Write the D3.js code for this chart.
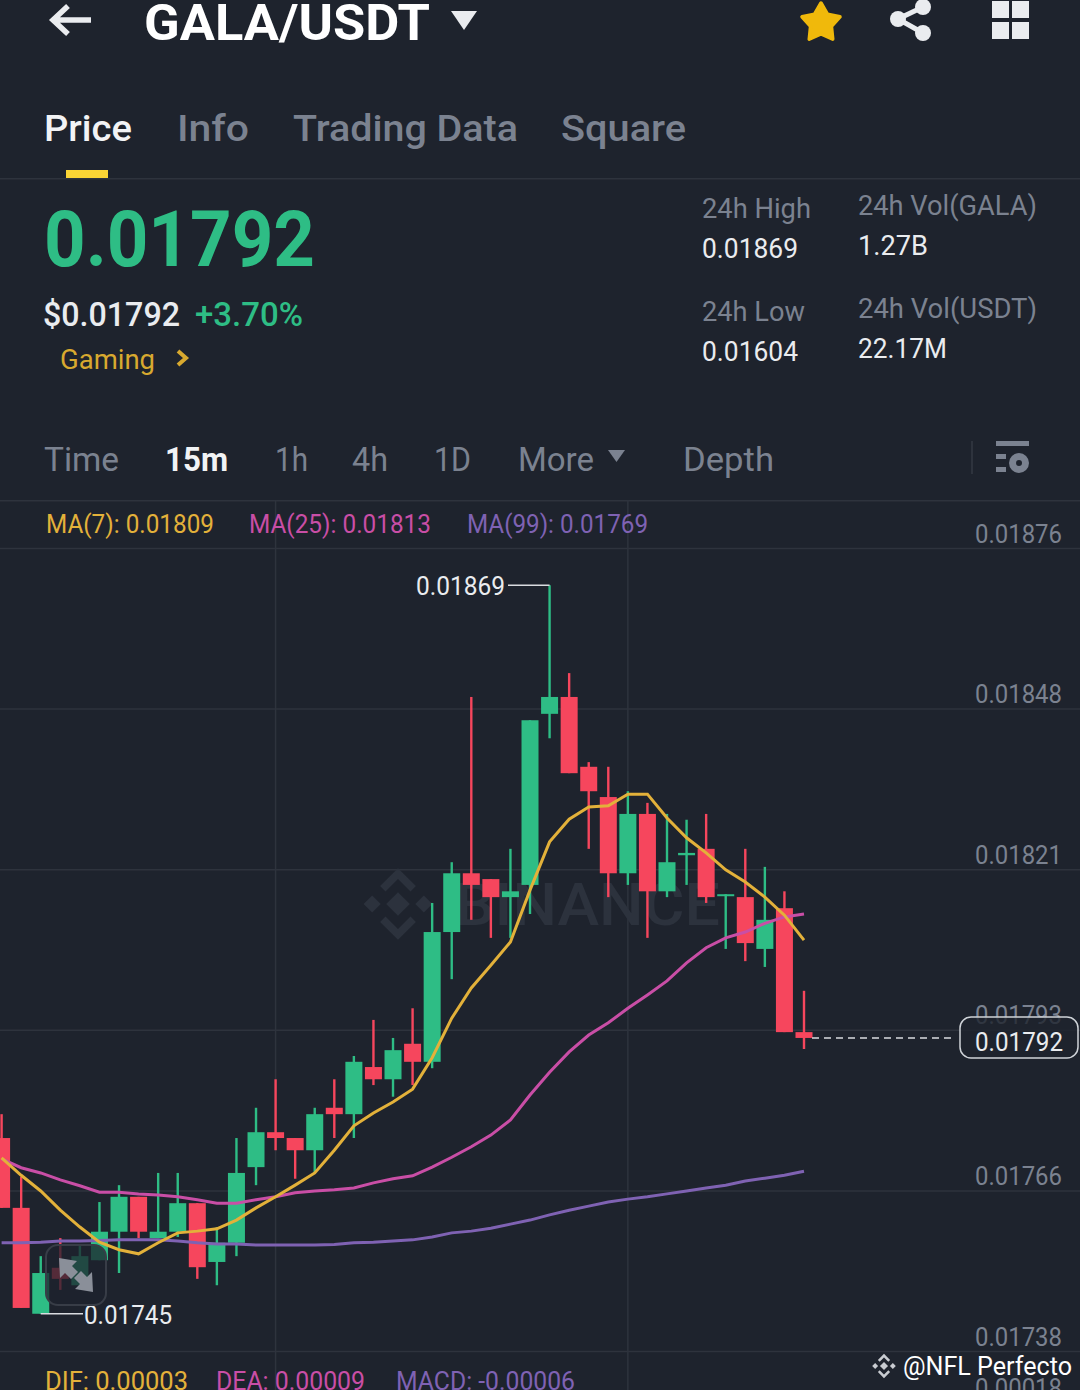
<!DOCTYPE html>
<html>
<head>
<meta charset="utf-8">
<script src="https://cdn.jsdelivr.net/npm/d3@7"></script>
<style>
html, body { margin: 0; padding: 0; background: #1e232d; overflow: hidden; }
text { font-family: Roboto, "Noto Sans", sans-serif; }
</style>
</head>
<body>
<div id="chart"></div>
<script>
// candles, oldest first
var opens = [0.017746,0.017626,0.017444,0.017523,0.017493,0.017536,0.017585,0.017645,0.017574,0.017585,0.017634,0.017533,0.017566,0.017696,0.017756,0.017746,0.017725,0.017798,0.017787,0.017868,0.017847,0.017908,0.017877,0.018100,0.018201,0.018191,0.018160,0.018181,0.018475,0.018504,0.018384,0.018332,0.018201,0.018303,0.018170,0.018232,0.018243,0.018162,0.018160,0.018071,0.018141,0.017928];
var closes = [0.017626,0.017454,0.017514,0.017504,0.017543,0.017585,0.017645,0.017585,0.017585,0.017634,0.017524,0.017566,0.017686,0.017756,0.017746,0.017725,0.017787,0.017787,0.017877,0.017847,0.017897,0.017877,0.018100,0.018201,0.018181,0.018160,0.018170,0.018464,0.018504,0.018373,0.018342,0.018201,0.018303,0.018170,0.018220,0.018236,0.018160,0.018165,0.018081,0.018121,0.017928,0.017918];
var highs = [0.017787,0.017679,0.017543,0.017574,0.017562,0.017636,0.017665,0.017645,0.017686,0.017686,0.017634,0.017593,0.017746,0.017798,0.017847,0.017746,0.017798,0.017847,0.017887,0.017949,0.017918,0.017969,0.018150,0.018220,0.018504,0.018191,0.018243,0.018464,0.018696,0.018545,0.018392,0.018384,0.018342,0.018322,0.018303,0.018293,0.018303,0.018165,0.018243,0.018212,0.018170,0.017999];
var lows = [0.017626,0.017454,0.017444,0.017485,0.017485,0.017536,0.017514,0.017574,0.017574,0.017576,0.017504,0.017493,0.017543,0.017665,0.017725,0.017676,0.017686,0.017746,0.017746,0.017837,0.017817,0.017837,0.017866,0.018019,0.018121,0.018090,0.018090,0.018131,0.018433,0.018373,0.018243,0.018160,0.018181,0.018090,0.018160,0.018181,0.018150,0.018071,0.018050,0.018040,0.017928,0.017899];

var ma7 = [0.017712,0.017682,0.017655,0.017622,0.017593,0.017567,0.017554,0.017547,0.017566,0.017583,0.017586,0.017590,0.017605,0.017626,0.017645,0.017665,0.017686,0.017725,0.017767,0.017789,0.017808,0.017830,0.017884,0.017952,0.018004,0.018043,0.018083,0.018172,0.018255,0.018294,0.018315,0.018317,0.018337,0.018337,0.018296,0.018262,0.018236,0.018207,0.018186,0.018160,0.018129,0.018086];
var ma25 = [0.017710,0.017695,0.017686,0.017674,0.017664,0.017653,0.017653,0.017650,0.017648,0.017645,0.017640,0.017634,0.017634,0.017640,0.017645,0.017652,0.017655,0.017657,0.017660,0.017669,0.017676,0.017681,0.017696,0.017713,0.017731,0.017751,0.017777,0.017820,0.017859,0.017894,0.017923,0.017944,0.017969,0.017992,0.018016,0.018047,0.018073,0.018090,0.018100,0.018115,0.018126,0.018131];
var ma99 = [0.017566,0.017566,0.017567,0.017569,0.017569,0.017570,0.017571,0.017571,0.017571,0.017569,0.017566,0.017564,0.017564,0.017562,0.017562,0.017562,0.017562,0.017563,0.017566,0.017567,0.017569,0.017571,0.017576,0.017583,0.017586,0.017591,0.017598,0.017605,0.017614,0.017622,0.017629,0.017636,0.017641,0.017645,0.017650,0.017655,0.017660,0.017665,0.017672,0.017677,0.017682,0.017689];

var priceTicks = [0.018760,0.018484,0.018208,0.017932,0.017656,0.017380];
var gridCandles = [14,32];
var highIndex = 28, lowIndex = 2;
var lastPrice = 0.017918;

var tabs = ["Price","Info","Trading Data","Square"];
var tabX = [44,177,293,561];
var tabW = [88,72,225,125];
var periods = ["Time","15m","1h","4h","1D","More","Depth"];
var periodX = [44,165,275,352,434,518,683];
var periodW = [75,63,33,36,37,76,91];

var bg = "#1e232d", up = "#2ebd85", down = "#f6465d", grid = "#2e333d", gray = "#7b8290",
    white = "#eaecef", yellow = "#e3b13a", pink = "#c94ea6", purple = "#7f62b3";

var width = 1080, height = 1390;

var svg = d3.select("#chart").append("svg")
    .attr("width", width)
    .attr("height", height)
    .style("display", "block");

svg.append("rect").attr("width", width).attr("height", height).attr("fill", bg);

// scales
var x = d3.scaleLinear().domain([0, 41]).range([1.6, 804]);
var y = d3.scaleLinear().domain([0.01738, 0.01876]).range([1351, 548]);

// w squeezes the text to the width it has in the picture
function label(parent, str, px, py, size, color, weight, w) {
    var t = parent.append("text")
        .attr("x", px).attr("y", py)
        .attr("font-size", size)
        .attr("fill", color)
        .attr("font-weight", weight || 400)
        .text(str);
    if (w) t.attr("textLength", w).attr("lengthAdjust", "spacingAndGlyphs");
    return t;
}

// binance mark, used for the watermark and the credit
function logo(cx, cy, s, color) {
    var g = svg.append("g").attr("transform", "translate(" + cx + "," + cy + ")").attr("fill", color);
    [[0,0],[-0.68,0],[0.68,0]].forEach(function(p, i) {
        var r = i == 0 ? 0.22 : 0.16;
        g.append("rect")
            .attr("x", -r * s).attr("y", -r * s)
            .attr("width", 2 * r * s).attr("height", 2 * r * s)
            .attr("transform", "translate(" + p[0] * s + ",0) rotate(45)");
    });
    [-1, 1].forEach(function(d) {
        g.append("path")
            .attr("d", "M" + (-0.4 * s) + "," + (d * 0.4 * s) + "L0," + (d * 0.8 * s) + "L" + (0.4 * s) + "," + (d * 0.4 * s))
            .attr("fill", "none").attr("stroke", color).attr("stroke-width", 0.2 * s);
    });
}

// ---- header ----
var head = svg.append("g");
head.append("path").attr("d", "M91,20H54M68,6L53,20L68,34")
    .attr("fill", "none").attr("stroke", white).attr("stroke-width", 5.5);
label(head, "GALA/USDT", 144, 40, 50, "#ffffff", 700, 286);
head.append("path").attr("d", "M451,11H477L464,30Z").attr("fill", white);

var star = d3.range(10).map(function(i) {
    var r = i % 2 ? 11 : 20, a = i * Math.PI / 5;
    return [821 + r * Math.sin(a), 23 - r * Math.cos(a)];
});
head.append("path").attr("d", d3.line()(star) + "Z")
    .attr("fill", "#f0b90b").attr("stroke", "#f0b90b").attr("stroke-width", 3.5).attr("stroke-linejoin", "round");

head.append("path").attr("d", "M923,7L898,19L923,33").attr("fill", "none").attr("stroke", white).attr("stroke-width", 5);
[[923,7],[898,19],[923,33]].forEach(function(c) {
    head.append("circle").attr("cx", c[0]).attr("cy", c[1]).attr("r", 8).attr("fill", white);
});
[[992,1],[1012,1],[992,22],[1012,22]].forEach(function(c) {
    head.append("rect").attr("x", c[0]).attr("y", c[1]).attr("width", 17).attr("height", 17).attr("fill", white);
});

tabs.forEach(function(t, i) {
    label(head, t, tabX[i], 141, 37, i == 0 ? "#f2f3f5" : gray, 500, tabW[i]);
});
head.append("rect").attr("x", 66).attr("y", 170).attr("width", 42).attr("height", 8).attr("fill", "#fcd535");
head.append("rect").attr("x", 0).attr("y", 178).attr("width", width).attr("height", 1.5).attr("fill", grid);

label(head, "0.01792", 44, 266, 78, up, 700, 271);
label(head, "$0.01792", 43, 326, 33, white, 500, 137);
label(head, "+3.70%", 195, 326, 33, up, 500, 108);
label(head, "Gaming", 60, 369, 28, "#d8a92f", 400, 95);
head.append("path").attr("d", "M178,351L186,358L178,365").attr("fill", "none").attr("stroke", "#d8a92f").attr("stroke-width", 4);

label(head, "24h High", 702, 218, 27, gray, 400, 109);
label(head, "0.01869", 702, 258, 27, white, 400, 96);
label(head, "24h Low", 702, 321, 27, gray, 400, 103);
label(head, "0.01604", 702, 361, 27, white, 400, 96);
label(head, "24h Vol(GALA)", 858, 215, 27, gray, 400, 179);
label(head, "1.27B", 858, 255, 27, white, 400, 70);
label(head, "24h Vol(USDT)", 858, 318, 27, gray, 400, 179);
label(head, "22.17M", 858, 358, 27, white, 400, 89);

periods.forEach(function(p, i) {
    label(head, p, periodX[i], 471, 33, i == 1 ? "#f2f3f5" : gray, i == 1 ? 700 : 400, periodW[i]);
});
head.append("path").attr("d", "M608,450H625L616.5,462Z").attr("fill", gray);
head.append("rect").attr("x", 971).attr("y", 441).attr("width", 2).attr("height", 33).attr("fill", grid);
head.append("rect").attr("x", 996).attr("y", 441).attr("width", 33).attr("height", 5).attr("fill", gray);
head.append("rect").attr("x", 996).attr("y", 454).attr("width", 10).attr("height", 5).attr("fill", gray);
head.append("rect").attr("x", 996).attr("y", 467).attr("width", 10).attr("height", 5).attr("fill", gray);
head.append("circle").attr("cx", 1019).attr("cy", 463).attr("r", 6.5).attr("fill", "none").attr("stroke", gray).attr("stroke-width", 7);

// ---- chart ----
head.append("rect").attr("x", 0).attr("y", 500).attr("width", width).attr("height", 1.5).attr("fill", grid);

var axis = d3.axisRight(y)
    .tickValues(priceTicks)
    .tickSize(-width)
    .tickFormat(function(d) { return d.toFixed(5); });

var axisG = svg.append("g").attr("transform", "translate(" + width + ",0)").call(axis);
axisG.select(".domain").remove();
axisG.selectAll("line").attr("stroke", grid).attr("stroke-width", 1.5);
axisG.selectAll("text")
    .attr("x", -18).attr("dy", "-6").attr("text-anchor", "end")
    .attr("font-size", 25).attr("fill", gray)
    .attr("font-family", "Roboto")
    .attr("textLength", 87).attr("lengthAdjust", "spacingAndGlyphs");

svg.selectAll(".vgrid")
    .data(gridCandles)
    .join("line")
        .attr("x1", d => x(d)).attr("x2", d => x(d))
        .attr("y1", 500).attr("y2", height)
        .attr("stroke", grid).attr("stroke-width", 1.5);

label(svg, "MA(7): 0.01809", 46, 533, 25, yellow, 400, 168);
label(svg, "MA(25): 0.01813", 249, 533, 25, pink, 400, 182);
label(svg, "MA(99): 0.01769", 467, 533, 25, purple, 400, 181);

// watermark sits under the candles
logo(398, 904, 38, "#2c323d");
label(svg, "BINANCE", 455, 925, 60, "#2c323d", 500, 265);

var candles = opens.map(function(o, i) {
    return {i: i, o: o, c: closes[i], h: highs[i], l: lows[i]};
});
var color = function(d) { return d.c >= d.o ? up : down; };

var candle = svg.append("g").selectAll("g")
    .data(candles)
    .join("g");

candle.append("line")
    .attr("x1", d => x(d.i)).attr("x2", d => x(d.i))
    .attr("y1", d => y(d.h)).attr("y2", d => y(d.l))
    .attr("stroke", color).attr("stroke-width", 2.4);

candle.append("rect")
    .attr("x", d => x(d.i) - 8.5)
    .attr("width", 17)
    .attr("y", d => y(Math.max(d.o, d.c)))
    .attr("height", d => Math.max(2, Math.abs(y(d.o) - y(d.c))))
    .attr("fill", color);

var line = d3.line().x((d, i) => x(i)).y(d => y(d));
[[ma99, purple], [ma25, pink], [ma7, yellow]].forEach(function(m) {
    svg.append("path")
        .attr("d", line(m[0]))
        .attr("fill", "none")
        .attr("stroke", m[1])
        .attr("stroke-width", 3);
});

// high / low markers
svg.append("path")
    .attr("d", "M508," + y(highs[highIndex]) + "H" + x(highIndex))
    .attr("stroke", "#d9dce0").attr("stroke-width", 1.5).attr("fill", "none");
label(svg, "0.01869", 416, y(highs[highIndex]) + 10, 25, white, 400, 89);
svg.append("path")
    .attr("d", "M" + x(lowIndex) + "," + y(lows[lowIndex]) + "H83")
    .attr("stroke", "#d9dce0").attr("stroke-width", 1.5).attr("fill", "none");
label(svg, "0.01745", 84, y(lows[lowIndex]) + 10, 25, white, 400, 88);

// expand button over the old candles
svg.append("rect")
    .attr("x", 46).attr("y", 1245).attr("width", 60).attr("height", 60).attr("rx", 12)
    .attr("fill", bg).attr("fill-opacity", 0.75)
    .attr("stroke", "#383d47").attr("stroke-width", 2);
svg.append("path")
    .attr("d", "M59,1258L77,1261L72,1266L78,1272L71,1279L65,1273L60,1278Z M93,1292L75,1289L80,1284L74,1278L81,1271L87,1277L92,1272Z")
    .attr("fill", "#8a8f99");

// last price tag
svg.append("line")
    .attr("x1", 812).attr("x2", 955)
    .attr("y1", y(lastPrice)).attr("y2", y(lastPrice))
    .attr("stroke", "#d9dce0").attr("stroke-width", 1.5).attr("stroke-dasharray", "7,5");
svg.append("rect")
    .attr("x", 960).attr("y", 1017).attr("width", 118).attr("height", 41).attr("rx", 11)
    .attr("fill", bg).attr("fill-opacity", 0.8)
    .attr("stroke", "#cfd3d8").attr("stroke-width", 1.5);
label(svg, "0.01792", 975, 1051, 25, white, 400, 88);

// macd legend, cut by the edge of the picture
label(svg, "DIF: 0.00003", 45, 1390, 25, yellow, 400, 143);
label(svg, "DEA: 0.00009", 216, 1390, 25, pink, 400, 149);
label(svg, "MACD: -0.00006", 396, 1390, 25, purple, 400, 179);
label(svg, "0.00018", 975, 1397, 25, gray, 400, 87);

logo(884, 1366, 13, "#c9ccd1");
label(svg, "@NFL Perfecto", 903, 1375, 26, "#ffffff", 400, 169);
</script>
</body>
</html>
